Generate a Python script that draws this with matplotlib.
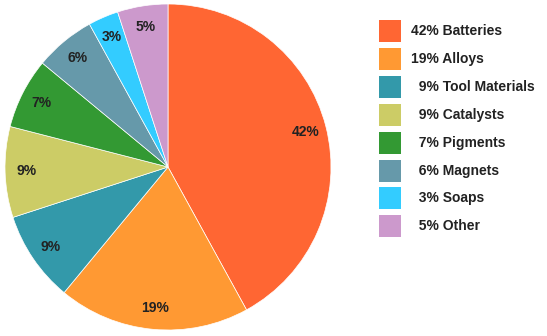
import matplotlib
matplotlib.use("Agg")
import matplotlib.pyplot as plt
from matplotlib.patches import Rectangle

categories = ["Batteries", "Alloys", "Tool Materials", "Catalysts", "Pigments", "Magnets", "Soaps", "Other"]
values = [42, 19, 9, 9, 7, 6, 3, 5]
colors = ["#FF6633", "#FF9933", "#3399AA", "#CCCC66", "#339933", "#6699AA", "#33CCFF", "#CC99CC"]

plt.rcParams['font.family'] = ['Liberation Sans', 'DejaVu Sans']

W, H = 547, 336
fig = plt.figure(figsize=(W/100, H/100), dpi=100)
cx, cy, r = 168, 167, 163
ax = fig.add_axes([(cx - r)/W, (H - cy - r)/H, 2*r/W, 2*r/H])
wedges, texts = ax.pie(values, colors=colors, startangle=90, counterclock=False,
                       labels=[f"{v}%" for v in values], labeldistance=0.87,
                       wedgeprops=dict(linewidth=0.5, edgecolor="white"),
                       textprops=dict(fontsize=10, fontweight="bold", color="#222222"))
for t in texts:
    t.set_ha("center"); t.set_va("center")
ax.set_aspect("equal")
ax.set_xlim(-1, 1); ax.set_ylim(-1, 1)

y0, dy = 31, 27.9
for i, (c, v, col) in enumerate(zip(categories, values, colors)):
    y = y0 + i*dy
    fig.add_artist(Rectangle(((379)/W, (H - y - 11)/H), 22/W, 22/H, transform=fig.transFigure,
                             facecolor=col, edgecolor="none"))
    lab = f"{v}% {c}" if v >= 10 else f"  {v}% {c}"
    fig.text(411/W, (H - y)/H, lab, fontsize=10, fontweight="bold", color="#222222",
             ha="left", va="center")

fig.savefig("out.png", dpi=100)
